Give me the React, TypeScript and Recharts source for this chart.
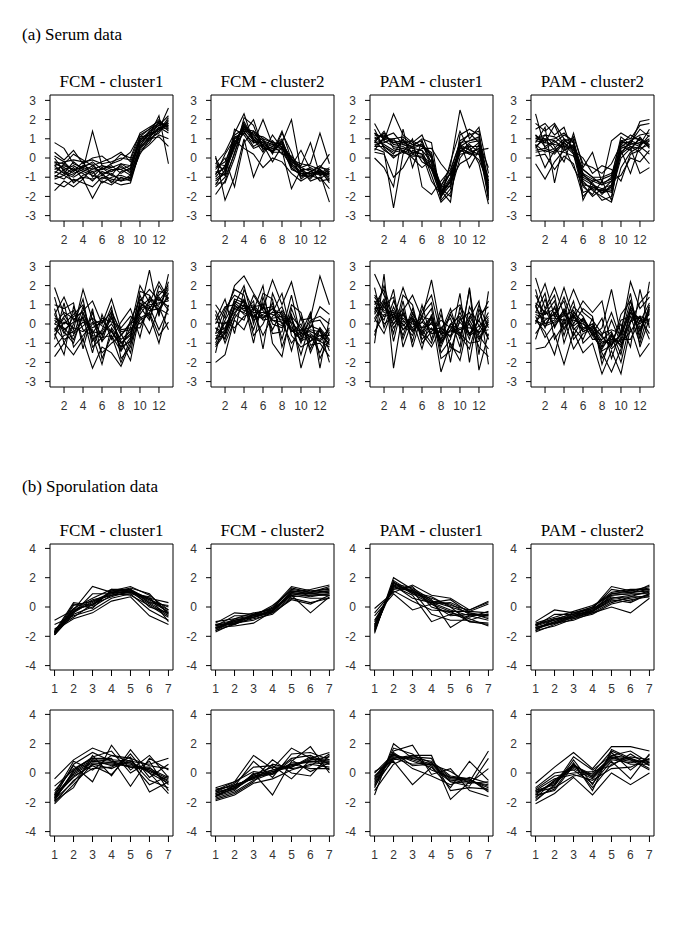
import { LineChart, Line, XAxis, YAxis, ReferenceArea } from "recharts";

// time points / tick labels
const serumTime = [1, 2, 3, 4, 5, 6, 7, 8, 9, 10, 11, 12, 13];
const sporTime = [1, 2, 3, 4, 5, 6, 7];
const serumXTicks = [2, 4, 6, 8, 10, 12];
const serumYTicks = [-3, -2, -1, 0, 1, 2, 3];
const sporXTicks = [1, 2, 3, 4, 5, 6, 7];
const sporYTicks = [-4, -2, 0, 2, 4];
const panelTitles = ["FCM - cluster1", "FCM - cluster2", "PAM - cluster1", "PAM - cluster2"];

// (a) serum, upper row
const serumFcm1Top = [
  [-0.3, -0.5, -0.8, -0.6, 1.4, -0.4, -0.5, -0.3, -0.6, 0.9, 1.3, 1.7, 2.2],
  [-1.7, -1.2, -1.5, -1.1, -2.1, -1.2, -1.4, -1.0, -1.2, 0.5, 0.9, 1.4, 1.8],
  [0.8, 0.5, -0.3, -0.5, -0.2, -0.6, -0.3, -0.1, 0.3, 1.2, 1.5, 2.0, 1.5],
  [-0.5, -0.8, -1.0, -0.7, -0.9, -1.1, -0.8, -1.2, -0.9, 0.7, 1.1, 1.5, 2.6],
  [-0.2, -0.3, 0.2, -0.1, -0.4, -0.2, 0.0, 0.3, -0.2, 0.8, 1.2, 2.2, -0.3],
  [-1.0, -0.6, -1.3, -0.9, -0.7, -1.3, -1.0, -0.9, -1.1, 0.3, 0.7, 1.2, 1.0],
  [0.3, -0.1, 0.4, -0.3, 0.0, 0.1, -0.3, 0.2, 0.0, 1.3, 1.6, 1.9, 1.6],
  [-0.7, -0.9, -0.5, -1.1, -0.5, -0.8, -1.3, -0.7, -0.6, 1.0, 1.0, 1.3, 2.0],
  [-1.3, -1.5, -1.1, -1.3, -1.5, -1.0, -1.2, -1.4, -1.3, 0.4, 0.8, 1.6, 1.3],
  [-0.4, -0.2, -0.7, -0.2, -1.0, -0.5, -0.7, -0.4, -0.8, 0.6, 1.4, 1.8, 1.7],
  [0.0, -0.7, -0.9, -0.4, -0.3, -0.9, -0.6, -0.6, -0.4, 1.1, 1.2, 1.5, 1.9],
  [-0.9, -1.1, -0.6, -0.8, -1.2, -0.7, -0.9, -1.1, -1.0, 0.2, 1.0, 1.1, 0.6],
  [-0.6, -0.4, -0.6, -0.5, -0.7, -0.6, -0.4, -0.8, -0.5, 0.8, 1.2, 1.6, 1.5],
  [-0.2, -0.6, -0.4, -0.7, -0.4, -0.8, -0.7, -0.5, -0.7, 0.9, 1.4, 1.7, 1.8],
  [-0.8, -0.3, -0.7, -0.4, -0.6, -0.4, -0.6, -0.6, -0.9, 0.6, 1.0, 1.9, 1.4],
  [-0.4, -0.8, -0.2, -0.6, -0.8, -0.5, -0.9, -0.3, -0.4, 1.0, 1.3, 1.4, 2.1],
  [-1.1, -0.9, -1.2, -1.0, -1.1, -0.9, -1.1, -1.2, -1.1, 0.5, 1.1, 1.5, 1.7],
  [0.1, -0.2, -0.1, -0.2, -0.1, -0.3, -0.2, 0.0, -0.1, 1.1, 1.5, 1.8, 1.6],
];
const serumFcm2Top = [
  [-0.8, -0.5, 0.8, 1.7, 1.2, 0.6, 0.5, 0.7, -0.3, -0.8, -0.8, -0.7, -1.0],
  [-1.9, -1.2, 0.3, 1.5, 0.9, 0.8, 0.3, 0.9, -0.5, -0.9, -1.0, -0.6, -1.3],
  [0.1, -2.2, -1.0, 1.0, -1.0, 0.2, 0.9, 0.4, -1.6, -0.6, -0.9, -1.1, -0.7],
  [-0.3, 0.3, 1.3, 2.3, 0.8, 2.0, 0.7, 0.2, 0.1, -0.5, -0.3, 1.3, -0.3],
  [-1.2, -0.8, 1.1, 1.3, 2.0, 0.5, 0.4, 0.8, 2.0, -0.7, -0.5, -0.8, -2.3],
  [-0.6, 0.0, -1.5, 0.8, 1.4, 1.0, 0.2, 1.3, 0.3, -1.1, -0.7, -0.4, -0.8],
  [-1.0, -0.4, 0.6, 1.9, 1.0, 0.3, 1.2, 0.5, -0.2, -0.4, 0.8, -0.9, -0.6],
  [0.0, -0.9, 1.5, 1.2, 0.5, 0.7, -0.2, 0.6, -0.6, -0.8, -1.1, -0.5, 0.2],
  [-1.5, -1.0, 0.2, 2.1, 1.7, 0.4, 0.6, 1.0, -0.4, 0.4, -0.6, -1.2, -1.1],
  [-0.4, -0.6, 0.9, 0.5, 0.2, -0.5, 0.0, -0.2, -0.8, -1.2, -0.9, -0.8, -0.5],
  [-1.3, -1.3, 0.0, 1.6, 1.2, 1.1, 0.8, 0.7, 0.0, -0.6, -1.2, -1.0, -1.6],
  [-0.9, 0.2, 1.0, 1.4, 0.6, 0.9, 0.3, 1.4, -0.1, -0.3, -0.4, -0.6, -0.9],
  [-0.8, -0.5, 0.8, 1.6, 1.1, 0.7, 0.5, 0.6, -0.3, -0.7, -0.8, -0.7, -0.9],
  [-0.5, -0.2, 1.0, 1.4, 1.3, 0.9, 0.7, 0.8, -0.1, -0.6, -0.6, -0.8, -0.7],
  [-1.1, -0.7, 0.5, 1.8, 1.0, 0.5, 0.4, 0.5, -0.5, -0.9, -0.9, -0.6, -1.1],
  [-0.7, -0.9, 0.7, 1.3, 0.8, 0.8, 0.6, 0.9, -0.2, -0.5, -0.7, -0.9, -0.8],
  [-0.3, -0.4, 1.2, 1.5, 1.4, 0.6, 0.3, 0.3, -0.4, -0.8, -1.0, -0.7, -1.2],
  [-1.4, -0.6, 0.6, 1.7, 0.9, 1.0, 0.8, 0.7, 0.0, -1.0, -0.7, -0.5, -0.6],
];
const serumPam1Top = [
  [1.0, 1.2, 0.8, 0.9, 0.5, 0.7, 0.2, -1.8, -1.0, 0.6, 0.9, 1.0, -1.8],
  [0.5, 0.3, -2.6, 0.2, 0.6, -0.2, -0.5, -2.0, -1.4, 0.4, 0.2, 0.5, -1.5],
  [1.8, 0.9, 2.3, 1.2, 0.8, 1.2, 0.0, -1.5, -0.4, 2.5, 1.0, 1.6, -0.8],
  [0.8, 1.4, 0.5, 0.6, 0.3, 0.4, -0.9, -2.3, -1.8, 0.0, 0.6, -0.3, -2.4],
  [0.0, -0.5, -1.5, 1.5, -0.5, 0.9, -0.3, -1.7, -2.3, 1.2, 1.5, 1.2, -1.2],
  [1.3, 1.0, 1.0, 0.3, 1.0, -1.5, -1.9, -1.2, -0.6, 0.8, -0.5, 0.4, 0.5],
  [0.6, 0.6, 0.2, 1.0, 0.2, 0.5, 0.5, -0.3, -0.9, 0.3, 0.8, 0.9, -2.0],
  [1.2, 1.1, 1.3, 0.7, 0.6, 1.0, 0.8, -2.1, -0.2, 1.4, 0.4, 0.2, -1.0],
  [0.3, 0.2, -1.0, -0.5, 0.4, 0.2, -1.2, -1.9, -1.2, -0.3, 0.0, 0.7, -1.6],
  [0.9, 1.3, 0.7, 0.8, 0.9, 0.6, 0.3, -2.2, -1.6, 0.9, 1.2, 1.4, -2.2],
  [1.5, 0.5, 0.0, 0.4, 0.0, -0.5, -0.1, -1.4, -0.8, 0.5, 0.3, -0.1, -1.3],
  [0.7, 0.8, 1.0, 1.1, 0.7, 0.9, -0.6, -1.6, -2.0, 0.7, 1.3, 0.8, -0.5],
  [0.8, 0.9, 0.6, 0.7, 0.5, 0.4, -0.2, -1.9, -1.1, 0.5, 0.6, 0.6, -1.6],
  [1.1, 0.7, 0.4, 0.5, 0.3, 0.2, -0.4, -1.7, -1.3, 0.7, 0.4, 0.8, -1.9],
  [0.6, 1.0, 0.8, 0.9, 0.7, 0.6, 0.0, -1.6, -0.8, 0.3, 0.7, 0.3, -1.2],
  [1.3, 0.6, 0.3, 0.4, 0.2, 0.0, -0.6, -2.0, -1.2, 0.2, 0.3, 0.5, -2.1],
  [0.4, 1.1, 0.9, 0.8, 0.6, 0.7, 0.1, -1.8, -0.7, 0.8, 0.9, 1.1, -1.4],
  [0.9, 0.4, 0.1, 0.3, 0.1, 0.1, -0.5, -1.5, -1.5, 0.6, 0.2, 0.2, -1.7],
];
const serumPam2Top = [
  [2.3, 0.5, 0.8, 1.2, 0.9, -0.8, -1.4, -1.8, -1.5, 0.6, 0.9, 1.2, 1.3],
  [-0.3, -1.1, -0.2, 0.4, 0.6, -1.2, -1.7, -2.0, -2.3, -0.5, 0.3, 0.6, 0.2],
  [0.8, 1.6, -1.3, 0.9, 1.0, -2.2, -1.2, -1.4, -1.0, 1.1, 0.7, 1.9, 2.0],
  [1.2, 0.8, 1.7, 0.6, -0.5, -1.4, -2.0, -1.6, -1.8, 0.0, 0.5, -0.8, -0.5],
  [0.5, 1.2, 0.6, -0.2, 1.3, -0.5, 0.3, -1.3, 0.9, 1.3, 1.0, 1.0, 0.7],
  [1.5, 1.8, 1.2, 1.6, 0.2, -1.8, -1.6, -2.2, -2.0, 0.4, -0.8, 0.7, 1.5],
  [0.3, 0.4, 0.2, 0.8, 0.4, 0.0, -0.8, -0.4, -0.6, -1.2, 0.2, 0.4, 0.9],
  [1.0, 0.9, 1.0, 1.3, 0.8, -1.0, -1.3, -1.9, -1.4, 0.8, 0.8, 1.5, 1.1],
  [0.7, -0.5, 0.4, 0.3, 0.1, -0.6, -1.0, -1.0, -0.8, 0.2, 0.6, 0.3, -0.3],
  [1.8, 1.4, 1.8, 1.0, 0.5, -1.5, -1.9, -1.2, -2.2, 0.9, 1.0, 1.7, 1.8],
  [0.1, 0.2, -0.6, 0.1, -0.3, -2.0, -1.5, -1.7, -1.2, -0.9, 0.0, -0.2, 0.4],
  [1.1, 1.0, 0.9, 0.5, 1.1, -0.3, -0.5, -0.8, -0.3, 0.7, 1.2, 0.9, 0.6],
  [0.9, 0.8, 0.7, 0.6, 0.5, -1.1, -1.4, -1.6, -1.4, 0.5, 0.7, 0.8, 0.9],
  [0.6, 1.0, 0.4, 0.8, 0.3, -0.8, -1.1, -1.3, -1.1, 0.7, 0.5, 1.0, 0.6],
  [1.2, 0.6, 0.9, 0.4, 0.7, -1.3, -1.6, -1.7, -1.6, 0.3, 0.8, 0.6, 1.2],
  [0.4, 0.5, 0.3, 0.9, 0.6, -0.6, -1.0, -1.4, -1.2, 0.6, 0.4, 1.1, 0.5],
  [1.0, 1.2, 1.1, 0.7, 0.2, -1.4, -1.5, -1.8, -1.7, 0.2, 0.9, 0.7, 1.0],
  [0.7, 0.3, 0.5, 1.0, 0.8, -0.9, -1.2, -1.1, -0.9, 0.9, 0.6, 0.5, 0.7],
];

// (a) serum, lower row
const serumFcm1Bottom = [
  [1.9, 0.5, -0.3, 1.8, 0.2, -0.6, 0.3, -1.0, -0.5, 1.0, 0.8, 1.5, 2.0],
  [-1.7, -1.0, -1.6, -0.8, -2.3, -1.2, -1.5, -2.2, -1.0, 0.2, 0.5, -1.0, 1.0],
  [0.5, 1.4, 0.2, 0.7, 1.2, 0.0, 1.3, -0.3, -0.2, 2.0, 1.1, 2.2, 1.3],
  [-0.5, -1.6, 0.9, -0.3, -0.6, -2.1, -0.2, -0.9, -1.9, 0.6, 2.8, 0.4, 2.6],
  [0.0, -0.2, -0.8, 0.4, -1.5, 0.5, -0.8, 0.1, 0.8, -0.7, 1.4, 0.9, -0.3],
  [1.0, 0.8, 1.1, -1.3, 0.6, -0.9, 0.5, -1.4, -0.7, 1.5, 0.3, 1.7, 1.6],
  [-1.2, -0.6, -0.4, 0.1, -0.3, -1.5, -1.0, -0.6, 0.0, 0.4, -0.5, 0.8, 0.5],
  [0.3, 0.0, 0.5, 1.0, -0.9, -0.3, 0.9, -1.8, -1.2, 1.2, 1.8, 1.2, 1.9],
  [-0.8, 1.1, -1.2, -0.6, 0.0, 0.2, -0.4, -1.2, -0.2, -0.2, 0.9, -0.3, 0.8],
  [0.8, -1.0, 0.0, 1.3, -1.2, -0.7, 0.7, -0.5, -1.5, 0.9, 0.2, 2.0, 1.2],
  [-0.3, 0.4, 0.7, -0.9, 0.8, -1.8, -0.6, -2.0, -0.8, 1.7, 1.5, 0.6, 2.2],
  [1.4, -0.4, -1.0, 0.6, -0.5, 0.3, 0.1, -0.2, 0.4, 0.0, 0.6, -0.6, 0.1],
  [0.2, -0.3, 0.1, 0.3, -0.4, -0.5, 0.0, -0.8, -0.4, 0.8, 1.0, 1.1, 1.2],
  [-0.4, 0.3, -0.5, -0.1, 0.3, -0.1, -0.4, -1.0, -0.6, 1.1, 0.7, 0.8, 1.4],
  [0.5, -0.5, 0.4, 0.6, -0.8, -0.4, 0.4, -0.6, 0.1, 0.5, 1.2, 1.3, 0.9],
  [-0.6, 0.1, -0.2, -0.4, 0.1, -0.9, -0.3, -1.2, -0.9, 0.9, 1.3, 0.6, 1.6],
  [0.0, 0.6, 0.3, 0.2, -0.2, 0.1, 0.6, -0.4, -0.3, 0.3, 0.6, 1.4, 0.7],
  [-0.2, -0.8, -0.6, 0.9, -0.6, -0.7, -0.6, -1.4, 0.2, 1.3, 0.9, 1.0, 1.8],
];
const serumFcm2Bottom = [
  [-2.0, -1.6, 0.3, 1.0, 0.2, 0.5, 0.8, 0.3, -0.3, -0.8, -0.5, -0.9, -1.2],
  [1.0, 0.3, 2.0, 2.5, 1.6, 0.8, 2.3, 1.0, 2.2, 0.2, 0.3, 2.5, 1.0],
  [-0.5, 0.8, 1.5, 1.2, -1.0, 1.4, 0.0, -0.2, 0.5, -2.3, -0.6, -1.5, -0.4],
  [-1.2, -0.5, 0.8, 0.6, 1.2, -1.3, 1.6, 0.4, -1.4, 0.4, -1.5, -0.3, -2.0],
  [0.2, 1.3, -0.5, 1.8, 0.7, 2.0, -1.0, -1.7, 0.8, -0.5, 0.6, -2.3, 0.3],
  [-0.8, -0.3, 1.2, 0.9, 0.4, 0.3, 0.6, 1.6, -0.6, -1.2, -0.9, -0.6, -1.0],
  [0.5, -1.0, 0.2, -0.3, 0.9, 1.0, -0.3, 0.7, 0.0, -1.6, 0.1, 0.2, -0.6],
  [-1.5, 0.6, 1.8, 1.5, -0.6, 0.0, 1.1, -0.8, 1.0, 0.6, -1.1, -1.0, -1.7],
  [-0.2, -0.8, 0.5, 0.2, 1.5, 0.7, 0.2, 0.1, -1.0, -0.3, -0.2, 0.9, 0.5],
  [0.0, 0.9, 1.0, 2.0, 0.0, 1.6, 1.3, -1.2, 0.3, -1.0, 0.5, -1.8, -0.8],
  [-1.0, 0.1, -0.2, 0.4, 0.6, -0.6, 0.4, 0.9, -0.4, 0.0, -1.3, -0.2, -1.4],
  [0.7, -0.4, 1.3, 1.1, -0.3, 1.1, -0.5, -0.4, 1.5, -0.7, 0.2, 0.4, 0.0],
  [-0.5, -0.2, 0.8, 1.0, 0.6, 0.6, 0.5, 0.2, 0.1, -0.5, -0.4, -0.6, -0.6],
  [-0.8, 0.2, 1.1, 0.7, 0.9, 0.3, 0.8, 0.5, -0.3, -0.8, -0.1, -0.3, -0.9],
  [-0.2, -0.5, 0.5, 1.3, 0.3, 0.9, 0.2, -0.1, 0.4, -0.2, -0.7, -0.9, -0.3],
  [-1.1, -0.4, 0.9, 0.8, 1.0, 0.4, 0.6, 0.6, -0.2, -0.6, -0.3, -0.4, -1.1],
  [0.1, 0.0, 0.6, 1.2, 0.4, 0.8, 0.9, 0.0, 0.3, -0.9, -0.6, -0.8, -0.2],
  [-0.6, -0.7, 1.0, 0.5, 0.8, 0.2, 0.3, 0.4, -0.4, -0.3, -0.9, -0.2, -0.8],
];
const serumPam1Bottom = [
  [2.6, 1.5, 0.3, 1.9, 0.5, -0.2, 0.4, -1.0, -0.3, 0.6, -0.5, 0.2, 1.2],
  [-1.0, 2.6, -2.3, 0.7, 1.5, 0.3, 2.3, -0.4, 0.8, -0.8, 1.8, -2.4, -0.5],
  [0.8, 0.2, 1.8, -1.2, 0.2, -1.3, 0.5, -2.5, -1.0, -1.9, 0.3, 1.2, -2.1],
  [1.5, 0.9, 0.0, 0.8, -0.9, 1.0, -0.8, 0.8, -2.0, 0.9, -0.6, -0.3, 0.6],
  [0.3, -0.5, 0.9, -0.3, 0.3, -0.5, -1.2, -0.2, 0.3, -1.2, 1.9, -1.6, 1.7],
  [1.0, 1.8, -0.9, 1.2, -1.2, 0.5, 1.1, -1.5, -0.8, 1.6, -2.0, 0.8, -0.8],
  [-0.4, 0.5, 0.6, -0.6, 0.8, -0.8, -0.2, -0.8, 0.5, -0.5, -1.0, -0.9, 0.2],
  [1.9, -0.2, 1.2, 0.2, -0.4, 0.1, 0.8, -1.8, -1.4, 0.2, 0.6, -0.6, -1.3],
  [0.1, 1.2, -0.5, 1.5, 1.0, -1.0, -0.4, 0.2, -0.2, -0.6, -1.3, 0.5, 0.9],
  [1.2, 0.0, 0.4, 0.0, -0.6, 0.7, 1.5, -0.6, 0.6, 1.0, 0.0, -1.2, -1.7],
  [-0.6, 1.0, 1.4, -0.8, 0.6, -0.3, -1.0, 0.5, -1.2, -1.5, 0.9, -0.1, 0.4],
  [0.6, 2.0, 0.2, 0.5, -0.2, 0.4, 0.2, -1.2, 0.0, 0.4, -0.8, 1.0, -0.2],
  [0.8, 0.9, 0.3, 0.3, 0.0, -0.2, 0.0, -0.5, -0.4, -0.2, -0.2, -0.4, -0.3],
  [1.2, 0.6, 0.7, -0.1, 0.4, -0.5, 0.3, -0.8, -0.1, -0.5, 0.2, -0.7, 0.1],
  [0.5, 1.3, 0.0, 0.6, -0.3, 0.1, -0.3, -0.2, -0.7, 0.1, -0.5, -0.1, -0.6],
  [0.9, 0.4, 0.5, 0.1, 0.3, -0.4, 0.4, -0.9, -0.3, -0.6, 0.4, -0.5, 0.3],
  [0.3, 1.1, -0.2, 0.5, -0.4, 0.3, -0.5, -0.4, -0.6, 0.3, -0.6, 0.2, -0.8],
  [1.4, 0.7, 0.6, -0.3, 0.2, -0.6, 0.1, -1.0, 0.0, -0.3, 0.0, -0.8, 0.0],
];
const serumPam2Bottom = [
  [2.4, 0.8, 1.9, 0.5, 1.8, 0.6, 0.2, -0.5, -0.3, -0.5, 2.2, 0.8, 1.4],
  [-1.3, -1.2, -0.5, -2.1, -0.4, -1.5, -1.0, -2.6, -1.4, -2.6, -0.2, -1.7, -1.0],
  [0.9, 2.1, 0.4, 1.9, 0.3, 1.2, 0.6, 1.2, -1.2, 0.5, 1.2, -0.8, 2.2],
  [0.2, -0.4, -1.6, 0.3, -1.3, -0.5, -0.3, -1.5, -2.5, -1.3, 0.6, 0.3, -0.5],
  [1.5, 0.5, 1.2, -0.6, 0.9, 0.4, -0.6, -0.2, 1.8, -0.6, 1.2, -0.2, 0.6],
  [0.0, 1.3, -0.2, 0.8, -0.2, -0.8, 0.3, -1.8, -0.9, 0.0, -1.2, 1.8, -0.2],
  [1.0, -0.2, 0.9, -0.3, 0.6, 0.1, -0.8, -0.8, -0.4, -1.6, 0.8, -0.6, 1.0],
  [-0.5, 0.2, 0.5, 1.2, -0.8, -0.2, 0.0, -1.2, 0.2, -1.0, -0.4, 0.4, -0.8],
  [0.6, 1.6, -0.8, 0.0, 1.2, -1.0, -0.5, 0.3, -1.8, -0.3, 1.6, -1.2, 0.3],
  [1.8, 0.0, 0.2, 1.4, 0.0, 0.8, 0.4, -2.1, -0.6, -2.0, 0.1, 1.1, 1.7],
  [-0.8, 0.7, 1.5, -1.0, 0.5, -0.4, -0.2, -0.6, 0.6, -0.8, -0.8, 0.2, 0.0],
  [0.4, -0.7, 0.0, 0.6, -0.6, 0.3, -0.4, -1.4, -1.1, 0.2, 0.4, -1.0, 0.8],
  [0.5, 0.3, 0.3, 0.2, 0.2, 0.0, -0.3, -1.0, -0.8, -0.9, 0.4, 0.0, 0.5],
  [0.9, 0.0, 0.6, -0.2, 0.5, -0.3, 0.0, -0.7, -1.1, -0.5, 0.8, -0.4, 0.9],
  [0.1, 0.7, -0.1, 0.5, -0.1, 0.3, -0.6, -1.3, -0.5, -1.2, 0.1, 0.4, 0.2],
  [0.6, 0.5, 0.8, 0.0, 0.4, -0.4, -0.1, -0.9, -1.0, -0.6, 0.6, -0.3, 0.7],
  [0.2, -0.1, 0.1, 0.7, -0.3, 0.2, -0.5, -1.2, -0.6, -1.1, 0.2, 0.3, 0.1],
  [1.1, 0.6, 0.4, 0.4, 0.7, -0.2, -0.2, -0.6, -1.3, -0.8, 0.9, 0.1, 1.1],
];

// (b) sporulation, upper row
const sporFcm1Top = [
  [-1.8, -0.3, 0.3, 0.9, 1.1, 0.4, -0.3],
  [-1.9, -0.5, 0.0, 0.8, 1.0, 0.2, -0.6],
  [-0.9, -0.2, 1.4, 1.0, 1.2, 0.5, 0.0],
  [-1.7, 0.3, 0.1, 1.1, 1.4, 0.8, -0.2],
  [-1.6, -0.8, -0.4, 0.4, 0.7, -0.6, -1.2],
  [-1.8, -0.1, 0.6, 1.2, 1.0, 0.6, 0.3],
  [-1.2, -0.6, -0.2, 0.6, 0.9, -0.2, -0.9],
  [-1.9, 0.1, 0.4, 1.0, 1.3, 0.9, -0.5],
  [-1.7, -0.4, 0.9, 0.9, 0.8, 0.1, -0.7],
  [-1.5, -0.7, 0.2, 0.7, 1.1, 0.3, 0.1],
  [-1.8, 0.2, -0.1, 1.2, 1.2, 0.0, -0.4],
  [-1.6, -0.3, 0.5, 0.8, 0.9, 0.7, -1.0],
  [-1.7, -0.2, 0.2, 1.0, 1.0, 0.5, -0.2],
  [-1.9, -0.4, 0.4, 0.8, 1.2, 0.3, -0.5],
  [-1.8, -0.1, 0.1, 1.1, 1.1, 0.6, -0.4],
];
const sporFcm2Top = [
  [-1.3, -1.0, -0.6, -0.2, 0.9, 0.9, 1.0],
  [-1.6, -1.2, -0.7, -0.4, 0.7, 0.8, 0.8],
  [-1.1, -0.4, -0.5, -0.1, 1.2, 1.0, 1.4],
  [-1.4, -1.3, -1.1, -0.3, 0.8, -0.4, 0.7],
  [-1.2, -0.9, -0.6, 0.0, 1.4, 1.1, 1.2],
  [-1.7, -1.1, -0.8, -0.5, 0.6, 0.3, 0.6],
  [-1.0, -0.8, -0.4, -0.2, 1.0, 1.2, 1.5],
  [-1.5, -1.0, -0.7, -0.3, 0.9, 0.7, 0.9],
  [-1.3, -0.6, -0.6, 0.1, 1.1, 0.9, 1.1],
  [-1.4, -1.1, -0.9, -0.4, 0.5, 0.2, 0.8],
  [-1.2, -1.2, -0.5, -0.1, 1.3, 1.0, 1.3],
  [-1.6, -0.9, -0.7, -0.2, 0.8, 0.6, 0.6],
  [-1.4, -0.9, -0.7, -0.3, 1.0, 0.8, 0.9],
  [-1.2, -1.1, -0.5, -0.1, 0.8, 1.0, 1.1],
  [-1.5, -0.8, -0.6, -0.3, 1.1, 0.9, 0.8],
];
const sporPam1Top = [
  [-1.8, 2.0, 1.2, 0.4, 0.2, -0.5, -0.6],
  [-0.1, 1.0, 1.5, 0.8, 0.6, -0.2, 0.4],
  [-1.5, 1.4, 0.8, -1.0, -0.5, -0.8, -1.3],
  [-1.2, 1.6, 1.3, 0.5, -1.4, -0.6, -0.9],
  [-0.6, 0.9, -0.2, 0.2, 0.3, -0.3, 0.2],
  [-1.7, 1.8, 1.0, 0.7, 0.0, -1.0, -1.2],
  [-0.9, 1.2, 1.4, 0.0, -0.4, -0.7, -0.3],
  [-1.4, 1.5, 0.6, 0.3, 0.5, -0.4, -0.8],
  [-1.0, 1.3, 1.1, -0.5, -0.9, -0.9, -0.5],
  [-1.6, 1.7, 0.9, 0.6, 0.1, -0.2, 0.3],
  [-0.4, 1.1, 0.4, -0.2, -0.3, -1.0, -1.1],
  [-1.3, 1.4, 1.2, 0.2, -0.6, -0.5, -0.7],
  [-1.2, 1.5, 1.1, 0.4, 0.0, -0.4, -0.6],
  [-1.4, 1.6, 1.0, 0.3, -0.2, -0.6, -0.5],
  [-1.6, 1.7, 0.9, 0.2, -0.3, -0.3, -0.4],
];
const sporPam2Top = [
  [-1.3, -0.9, -0.6, -0.3, 0.6, 0.8, 1.0],
  [-1.6, -1.3, -0.8, -0.5, 0.2, 0.5, 0.7],
  [-1.0, -0.2, -0.4, -0.1, 1.4, 1.1, 1.4],
  [-1.4, -1.1, -0.9, -0.4, 0.0, -0.4, 0.6],
  [-1.2, -0.8, -0.5, 0.0, 1.0, 1.2, 1.2],
  [-1.7, -1.2, -0.7, -0.3, 0.4, 0.6, 0.8],
  [-1.1, -0.7, -0.3, 0.1, 0.8, 0.9, 1.5],
  [-1.5, -1.0, -0.6, -0.2, 0.7, 0.4, 0.9],
  [-1.3, -0.5, -0.5, -0.1, 1.2, 1.0, 1.1],
  [-1.4, -1.1, -0.7, -0.4, 0.3, 0.7, 0.7],
  [-1.2, -0.9, -0.4, 0.0, 0.9, 1.1, 1.3],
  [-1.6, -0.8, -0.8, -0.3, 0.5, 0.3, 0.9],
  [-1.4, -1.0, -0.5, -0.3, 0.8, 0.9, 0.9],
  [-1.2, -0.8, -0.7, -0.1, 0.6, 0.7, 1.1],
  [-1.5, -1.1, -0.6, -0.2, 0.9, 1.0, 1.2],
];

// (b) sporulation, lower row
const sporFcm1Bottom = [
  [-1.8, 0.0, 0.8, 0.7, 0.6, 0.2, -0.4],
  [-2.1, -0.8, 0.6, 0.3, 0.9, -0.5, -1.0],
  [-0.4, 0.9, 1.7, 1.2, 0.8, 0.6, 1.0],
  [-1.5, 0.5, -0.6, 1.9, 0.2, 1.2, -0.3],
  [-1.9, -1.0, 1.2, -0.2, 1.6, 0.0, -1.4],
  [-1.2, 0.3, 1.0, 1.0, -0.9, 1.0, 0.2],
  [-2.0, -0.5, 0.3, 0.4, 1.1, -1.3, -0.6],
  [-1.6, 0.6, 1.4, 0.8, 0.4, 0.4, -0.8],
  [-1.7, -0.2, 0.5, -0.1, 1.3, -0.3, 0.6],
  [-0.9, 0.2, 1.1, 1.5, 0.0, 0.8, -1.2],
  [-1.8, -0.6, 0.9, 0.5, 0.7, -0.8, -0.2],
  [-1.4, 0.8, 0.2, 1.2, 1.0, 0.5, 0.3],
  [-1.7, 0.1, 0.9, 0.8, 0.7, 0.1, -0.5],
  [-1.5, -0.1, 0.7, 0.6, 0.5, 0.3, -0.3],
  [-1.9, 0.2, 1.0, 0.9, 0.8, 0.0, -0.7],
  [-1.6, -0.3, 0.6, 0.7, 0.4, 0.2, -0.6],
];
const sporFcm2Bottom = [
  [-1.4, -1.0, -0.2, 0.1, 0.5, 0.8, 0.8],
  [-1.9, -1.5, -0.7, -0.4, 0.2, 0.6, 0.4],
  [-1.0, -0.6, 1.2, 0.3, 1.7, 1.0, 1.4],
  [-1.6, -1.2, 0.0, -1.5, 0.8, 1.8, 0.0],
  [-1.2, -0.8, -0.4, 0.9, 0.0, -0.2, 1.2],
  [-1.7, -1.3, -0.5, 0.0, 1.0, 1.2, 0.6],
  [-1.3, -0.7, 0.4, 0.5, -0.4, 0.9, 1.1],
  [-1.5, -1.1, -0.3, 0.2, 0.6, 0.3, 0.3],
  [-1.1, -0.9, 0.8, -0.3, 1.3, 1.4, 0.9],
  [-1.8, -1.4, -0.6, 0.6, 0.3, 0.5, 1.3],
  [-1.2, -0.6, 0.1, -0.1, 0.9, 0.1, 0.7],
  [-1.6, -1.0, -0.1, 0.4, 0.4, 1.1, 0.2],
  [-1.4, -0.9, -0.3, 0.0, 0.6, 0.8, 0.7],
  [-1.3, -1.0, -0.1, 0.2, 0.5, 0.9, 0.9],
  [-1.5, -1.1, -0.2, -0.1, 0.7, 0.7, 0.6],
  [-1.6, -0.8, -0.4, 0.1, 0.4, 1.0, 0.8],
];
const sporPam1Bottom = [
  [-0.5, 1.2, 0.9, 0.5, -0.5, -0.6, -0.8],
  [-1.5, 2.0, 1.0, 0.8, -0.2, -0.4, -1.3],
  [0.1, 0.8, -0.8, 0.4, -1.0, 0.8, -0.5],
  [-0.8, 1.5, 1.9, -0.1, 0.3, -1.2, -1.6],
  [-1.2, 0.6, 1.2, 1.2, -1.8, -0.6, 1.5],
  [-0.2, 1.0, 0.6, 0.7, -0.6, -0.9, 1.0],
  [-1.0, 1.7, 1.3, 0.2, -0.3, -0.5, -1.0],
  [0.0, 1.3, 0.3, -0.2, -0.8, -0.3, -0.7],
  [-0.7, 0.9, 1.1, 1.0, -1.2, -1.0, -1.1],
  [-0.3, 1.4, 0.5, 0.6, 0.1, -0.7, 0.3],
  [-0.6, 1.1, 1.0, 0.6, -0.4, -0.5, -0.9],
  [-0.4, 1.3, 0.8, 0.4, -0.6, -0.7, -0.6],
  [-0.9, 1.0, 1.2, 0.7, -0.3, -0.4, -1.2],
];
const sporPam2Bottom = [
  [-1.4, -0.6, 0.4, -0.3, 1.0, 0.8, 0.8],
  [-2.1, -1.4, -0.3, -1.5, 0.0, -0.8, 0.0],
  [-0.7, 0.4, 1.4, 0.3, 1.8, 1.8, 1.5],
  [-1.8, -0.9, 0.9, -0.8, 1.4, 0.2, 1.2],
  [-1.1, -0.2, 0.0, 0.1, 0.5, 1.3, 0.5],
  [-1.6, -1.1, 0.7, -1.2, 1.6, 1.0, 0.3],
  [-1.2, -0.4, -0.1, -0.5, 0.3, 0.4, 1.0],
  [-1.9, -0.8, 1.1, 0.2, 1.2, 1.5, 0.7],
  [-1.0, 0.0, 0.2, -0.7, 0.8, -0.4, 1.3],
  [-1.5, -1.2, 0.5, -0.1, 1.1, 0.6, 0.6],
  [-1.7, -0.5, 0.6, -1.0, 0.6, 1.1, 0.9],
  [-1.3, -1.0, -0.2, 0.0, 1.5, 0.9, 0.2],
  [-1.3, -0.7, 0.5, -0.2, 1.1, 0.9, 0.7],
  [-1.5, -0.5, 0.3, -0.4, 0.9, 0.7, 0.9],
  [-1.2, -0.8, 0.6, -0.3, 1.2, 1.0, 0.6],
];

const BOX_LEFTS = [50, 211, 370, 531];
const BOX_W = 123;
const BOX_H = 126;
const AXIS_W = 45;
const tickStyle = {
  fontSize: 12,
  fill: "#333",
  fontFamily: "'Liberation Sans Narrow', 'Liberation Sans', Arial, sans-serif",
};
const serifFont = "'Liberation Serif', 'Times New Roman', serif";

function toRows(time: number[], profiles: number[][]) {
  return time.map((t, j) => {
    const row: Record<string, number> = { t };
    profiles.forEach((p, i) => {
      row[`p${i}`] = p[j];
    });
    return row;
  });
}

type PanelProps = {
  left: number;
  top: number;
  time: number[];
  profiles: number[][];
  xDomain: [number, number];
  yDomain: [number, number];
  xTicks: number[];
  yTicks: number[];
  title?: string;
};

function Panel({ left, top, time, profiles, xDomain, yDomain, xTicks, yTicks, title }: PanelProps) {
  const rows = toRows(time, profiles);
  return (
    <>
      {title && (
        <div
          style={{
            position: "absolute",
            left,
            top: top - 23,
            width: BOX_W,
            textAlign: "center",
            fontFamily: serifFont,
            fontSize: 17,
            lineHeight: "20px",
            whiteSpace: "nowrap",
          }}
        >
          {title}
        </div>
      )}
      <div style={{ position: "absolute", left: left - AXIS_W, top: top - 5 }}>
        <LineChart
          width={AXIS_W + BOX_W + 5}
          height={5 + BOX_H + 30}
          data={rows}
          margin={{ top: 5, right: 5, left: 0, bottom: 0 }}
        >
          <XAxis
            type="number"
            dataKey="t"
            domain={xDomain}
            ticks={xTicks}
            interval={0}
            allowDataOverflow
            axisLine={false}
            tickSize={6}
            tickMargin={8}
            height={30}
            tick={tickStyle}
            tickLine={{ stroke: "#000" }}
          />
          <YAxis
            type="number"
            domain={yDomain}
            ticks={yTicks}
            interval={0}
            allowDataOverflow
            axisLine={false}
            tickSize={5}
            tickMargin={9}
            width={AXIS_W}
            tick={tickStyle}
            tickLine={{ stroke: "#000" }}
          />
          {profiles.map((_, i) => (
            <Line
              key={i}
              type="linear"
              dataKey={`p${i}`}
              stroke="#000"
              strokeWidth={1.1}
              dot={false}
              isAnimationActive={false}
            />
          ))}
          <ReferenceArea
            x1={xDomain[0]}
            x2={xDomain[1]}
            y1={yDomain[0]}
            y2={yDomain[1]}
            fill="none"
            stroke="#000"
            strokeWidth={1}
            ifOverflow="visible"
          />
        </LineChart>
      </div>
    </>
  );
}

const SERUM_X: [number, number] = [0.52, 13.48];
const SERUM_Y: [number, number] = [-3.28, 3.28];
const SPOR_X: [number, number] = [0.76, 7.24];
const SPOR_Y: [number, number] = [-4.3, 4.3];

export default function App() {
  const serumTop = [serumFcm1Top, serumFcm2Top, serumPam1Top, serumPam2Top];
  const serumBottom = [serumFcm1Bottom, serumFcm2Bottom, serumPam1Bottom, serumPam2Bottom];
  const sporTop = [sporFcm1Top, sporFcm2Top, sporPam1Top, sporPam2Top];
  const sporBottom = [sporFcm1Bottom, sporFcm2Bottom, sporPam1Bottom, sporPam2Bottom];

  return (
    <div style={{ position: "absolute", left: 0, top: 0, width: 685, height: 933, background: "#fff" }}>
      <div style={{ position: "absolute", left: 22, top: 24, fontFamily: serifFont, fontSize: 17, lineHeight: "22px" }}>
        (a) Serum data
      </div>
      <div style={{ position: "absolute", left: 22, top: 476, fontFamily: serifFont, fontSize: 17, lineHeight: "22px" }}>
        (b) Sporulation data
      </div>

      {serumTop.map((p, i) => (
        <Panel key={`st${i}`} left={BOX_LEFTS[i]} top={95} time={serumTime} profiles={p}
          xDomain={SERUM_X} yDomain={SERUM_Y} xTicks={serumXTicks} yTicks={serumYTicks} title={panelTitles[i]} />
      ))}
      {serumBottom.map((p, i) => (
        <Panel key={`sb${i}`} left={BOX_LEFTS[i]} top={261} time={serumTime} profiles={p}
          xDomain={SERUM_X} yDomain={SERUM_Y} xTicks={serumXTicks} yTicks={serumYTicks} />
      ))}
      {sporTop.map((p, i) => (
        <Panel key={`pt${i}`} left={BOX_LEFTS[i]} top={544} time={sporTime} profiles={p}
          xDomain={SPOR_X} yDomain={SPOR_Y} xTicks={sporXTicks} yTicks={sporYTicks} title={panelTitles[i]} />
      ))}
      {sporBottom.map((p, i) => (
        <Panel key={`pb${i}`} left={BOX_LEFTS[i]} top={710} time={sporTime} profiles={p}
          xDomain={SPOR_X} yDomain={SPOR_Y} xTicks={sporXTicks} yTicks={sporYTicks} />
      ))}
    </div>
  );
}
